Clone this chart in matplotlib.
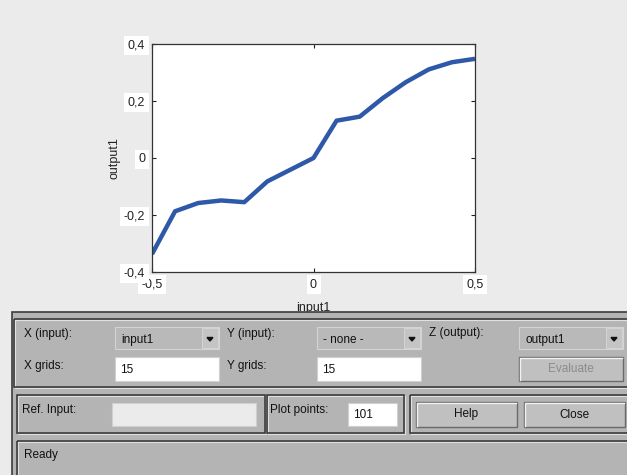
import numpy as np
import matplotlib
matplotlib.use("Agg")
import matplotlib.pyplot as plt
from matplotlib.patches import Rectangle, Polygon

# ── Data (surface viewer, 15 grid points) ────────────────────────────────────
input1 = [-0.5, -0.4286, -0.3571, -0.2857, -0.2143, -0.1429, -0.0714, 0.0,
          0.0714, 0.1429, 0.2143, 0.2857, 0.3571, 0.4286, 0.5]
output1 = [-0.337, -0.187, -0.158, -0.149, -0.155, -0.082, -0.041, 0.0,
           0.131, 0.145, 0.210, 0.266, 0.311, 0.336, 0.348]
xticks = [-0.5, 0.0, 0.5]
xticklabels = ["-0,5", "0", "0,5"]
yticks = [-0.4, -0.2, 0.0, 0.2, 0.4]
yticklabels = ["-0,4", "-0,2", "0", "0,2", "0,4"]

W, H = 627, 475
plt.rcParams['font.family'] = ['Liberation Sans', 'DejaVu Sans']

fig = plt.figure(figsize=(W / 100, H / 100), dpi=100, facecolor="#ebebeb")

# ── Plot axes ────────────────────────────────────────────────────────────────
ax = fig.add_axes([152 / W, 1 - 272 / H, 323 / W, 228 / H])
ax.plot(input1, output1, color="#2e58a8", lw=3.2, solid_capstyle="butt")
ax.set_xlim(-0.5, 0.5)
ax.set_ylim(-0.4, 0.4)
ax.set_xticks(xticks)
ax.set_xticklabels(xticklabels)
ax.set_yticks(yticks)
ax.set_yticklabels(yticklabels)
ax.tick_params(direction="in", length=3, top=True, right=True,
               labelsize=9, colors="#222222", pad=5)
for lab in ax.get_xticklabels() + ax.get_yticklabels():
    lab.set_bbox(dict(facecolor="white", edgecolor="none", pad=2.5))
for s in ax.spines.values():
    s.set_color("#333333")
    s.set_linewidth(0.9)
ax.set_xlabel("input1", fontsize=9, labelpad=8, color="#222222")
ax.set_ylabel("output1", fontsize=9, labelpad=2, color="#222222")

# ── GUI panel overlay (pixel coordinates) ────────────────────────────────────
ui = fig.add_axes([0, 0, 1, 1], zorder=5)
ui.set_xlim(0, W)
ui.set_ylim(H, 0)
ui.axis("off")
ui.patch.set_alpha(0)

PANEL = "#b4b4b4"
DARK = "#3c3c3c"


def rect(x0, y0, x1, y1, fc="none", ec=DARK, lw=1.2, z=1):
    ui.add_patch(Rectangle((x0, y0), x1 - x0, y1 - y0, facecolor=fc,
                           edgecolor=ec, lw=lw, zorder=z))


def frame(x0, y0, x1, y1):
    rect(x0 + 1, y0 + 1, x1 + 1, y1 + 1, ec="#e0e0e0", lw=0.8, z=2)
    rect(x0, y0, x1, y1, ec=DARK, lw=1.2, z=3)


def label(x, y, s, color="#111111", ha="left"):
    ui.text(x, y, s, fontsize=8.5, color=color, ha=ha, va="center", zorder=6)


def popup(x0, y0, x1, y1, s):
    rect(x0, y0, x1, y1, fc="#b9b9b9", ec="#d4d4d4", lw=0.8, z=4)
    rect(x1 - 17, y0 + 1, x1 - 1, y1 - 1, fc="#c4c4c4", ec="#d8d8d8", lw=0.6, z=4)
    cx, cy = x1 - 9, (y0 + y1) / 2 + 1
    ui.add_patch(Polygon([[cx - 3, cy - 1.5], [cx + 3, cy - 1.5], [cx, cy + 2]],
                         closed=True, color="#111111", zorder=5))
    label(x0 + 6, (y0 + y1) / 2 + 2, s)


def edit(x0, y0, x1, y1, s, fc="white"):
    rect(x0, y0, x1, y1, fc=fc, ec="#d0d0d0", lw=0.8, z=4)
    label(x0 + 5, (y0 + y1) / 2 + 1, s)


def button(x0, y0, x1, y1, s, color="#111111"):
    rect(x0, y0, x1, y1, fc="#c0c0c0", ec="#6a6a6a", lw=1.0, z=4)
    ui.plot([x0 + 1, x0 + 1, x1 - 1], [y1 - 1, y0 + 1, y0 + 1],
            color="#f2f2f2", lw=1.0, zorder=5)
    ui.text((x0 + x1) / 2, (y0 + y1) / 2, s, fontsize=8.5, color=color,
            ha="center", va="center", zorder=6)


# panel background
rect(12, 312, W + 2, H + 2, fc=PANEL, ec=DARK, lw=1.2, z=0.5)

# frames
frame(14, 319, W + 5, 387)
frame(17, 395, 265, 433)
frame(267, 395, 404, 433)
frame(410, 395, W + 5, 433)
frame(17, 441, W + 5, H + 5)

# row 1
label(24, 334, "X (input):")
popup(115, 327, 219, 349, "input1")
label(227, 334, "Y (input):")
popup(317, 327, 421, 349, "- none -")
label(429, 333, "Z (output):")
popup(519, 327, 623, 349, "output1")

# row 2
label(24, 366, "X grids:")
edit(115, 357, 219, 381, "15")
label(227, 366, "Y grids:")
edit(317, 357, 421, 381, "15")
button(519, 357, 623, 381, "Evaluate", color="#8c8c8c")

# row 3
label(22, 410, "Ref. Input:")
edit(112, 403, 256, 426, "", fc="#ebebeb")
label(270, 410, "Plot points:")
edit(348, 403, 397, 426, "101")
button(416, 402, 517, 427, "Help")
button(524, 402, 625, 427, "Close")

# status
label(24, 455, "Ready")

fig.savefig("out.png", dpi=100, facecolor=fig.get_facecolor())
